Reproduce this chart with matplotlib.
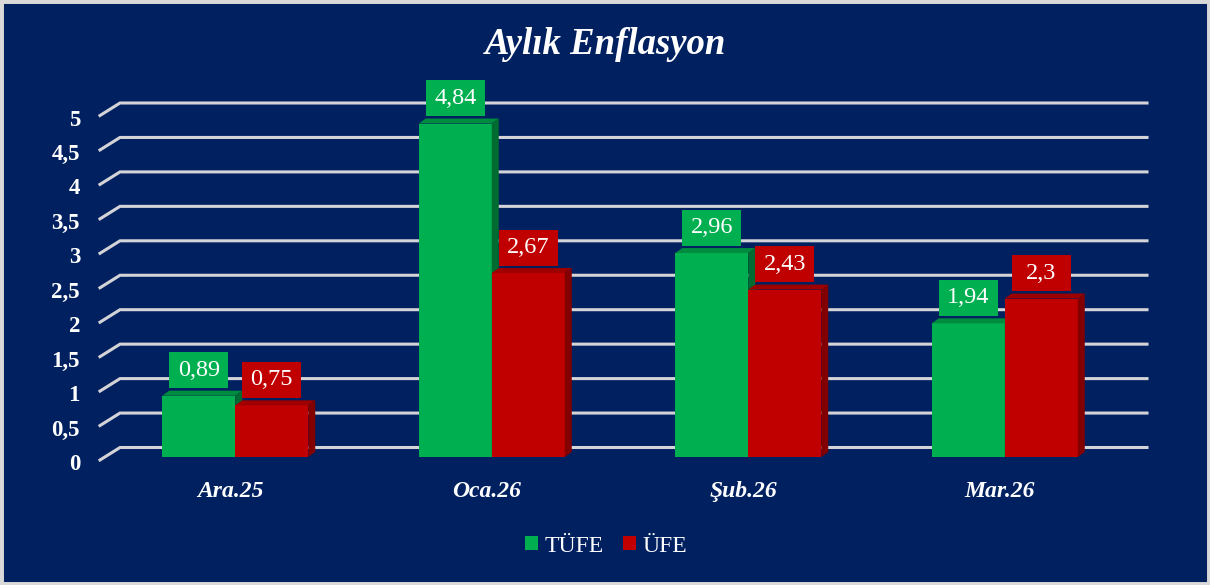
import matplotlib
matplotlib.use('Agg')
import matplotlib.pyplot as plt
from matplotlib.patches import Rectangle, Polygon, Patch

# veriler
categories = ['Ara.25', 'Oca.26', 'Şub.26', 'Mar.26']
tufe = [0.89, 4.84, 2.96, 1.94]
ufe = [0.75, 2.67, 2.43, 2.3]
y_ticks = [0, 0.5, 1, 1.5, 2, 2.5, 3, 3.5, 4, 4.5, 5]
series_names = ['TÜFE', 'ÜFE']

NAVY = '#002060'
GREEN, GREEN_TOP, GREEN_SIDE = '#00B050', '#008C3F', '#006B30'
RED, RED_TOP, RED_SIDE = '#C00000', '#9E0000', '#830000'
GRID = '#D4D4D8'

plt.rcParams['font.family'] = ['Liberation Serif', 'DejaVu Serif']

W, H = 1210, 585
fig = plt.figure(figsize=(12.1, 5.85), dpi=100)
fig.patch.set_facecolor(NAVY)
fig.patches.append(Rectangle((0, 0), 1, 1, transform=fig.transFigure, fill=False,
                             edgecolor='#D9D9D9', lw=5))

# piksel geometrisi
PX_X = 256.5   # bir kategori kaç piksel
PX_Y = 68.9    # bir birim kaç piksel
ax_left, ax_base = 107, 457
ytop = 5.6
ax = fig.add_axes([ax_left / W, (H - ax_base) / H, 4 * PX_X / W, ytop * PX_Y / H])
ax.set_xlim(-0.5, 3.5)
ax.set_ylim(0, ytop)
ax.axis('off')


def px_x(p):
    return (p - ax_left) / PX_X - 0.5


# 3B derinlik
ddx, ddy = 7 / PX_X, 5 / PX_Y
bw = 73 / PX_X

# arka duvar çizgileri
back_l, back_r, front_l = px_x(120), px_x(1147), px_x(100)
for v, lab in zip(y_ticks, y_ticks):
    yb = v + 9.5 / PX_Y
    yf = v - 3 / PX_Y
    ax.plot([front_l, back_l, back_r], [yf, yb, yb], color=GRID, lw=2.2,
            solid_joinstyle='miter', clip_on=False, zorder=1)
    txt = f'{lab:g}'.replace('.', ',')
    ax.text(px_x(80), v - 13 / PX_Y, txt, ha='right', va='baseline', color='white',
            fontsize=16.5, fontweight='bold', clip_on=False)


def draw_bar(xc, h, front, top, side, z):
    x0 = xc - bw / 2
    ax.bar(xc, h, width=bw, color=front, zorder=z, linewidth=0)
    ax.add_patch(Polygon([(x0, h), (x0 + bw, h), (x0 + bw + ddx, h + ddy), (x0 + ddx, h + ddy)],
                         closed=True, facecolor=top, lw=0, zorder=z, clip_on=False))
    ax.add_patch(Polygon([(x0 + bw, 0), (x0 + bw + ddx, ddy), (x0 + bw + ddx, h + ddy), (x0 + bw, h)],
                         closed=True, facecolor=side, lw=0, zorder=z, clip_on=False))
    # değer kutusu
    boxw, boxh = 59 / PX_X, 36 / PX_Y
    yb = h + ddy + 2.5 / PX_Y
    ax.add_patch(Rectangle((xc - boxw / 2, yb), boxw, boxh, facecolor=front, lw=0,
                           zorder=10, clip_on=False))
    ax.text(xc, yb + boxh / 2, f'{h:g}'.replace('.', ','), ha='center', va='center',
            color='white', fontsize=17.5, zorder=11, clip_on=False)


for i, (g, r) in enumerate(zip(tufe, ufe)):
    draw_bar(i - bw / 2, g, GREEN, GREEN_TOP, GREEN_SIDE, 3)
    draw_bar(i + bw / 2, r, RED, RED_TOP, RED_SIDE, 4)
    ax.text(i - 0.02, -40 / PX_Y, categories[i], ha='center', va='baseline', color='white',
            fontsize=17, fontweight='bold', fontstyle='italic', clip_on=False)

fig.text(606 / W, 1 - 53.5 / H, 'Aylık Enflasyon', ha='center', va='baseline', color='white',
         fontsize=26.5, fontweight='bold', fontstyle='italic')

handles = [Patch(facecolor=GREEN, label=series_names[0]), Patch(facecolor=RED, label=series_names[1])]
leg = fig.legend(handles=handles, loc='center', bbox_to_anchor=(606 / W, 1 - 546 / H), ncol=2,
                 frameon=False, fontsize=17, handlelength=0.55, handleheight=0.55,
                 handletextpad=0.3, columnspacing=0.8, labelcolor='white')

fig.savefig('out.png', dpi=100, facecolor=NAVY)
